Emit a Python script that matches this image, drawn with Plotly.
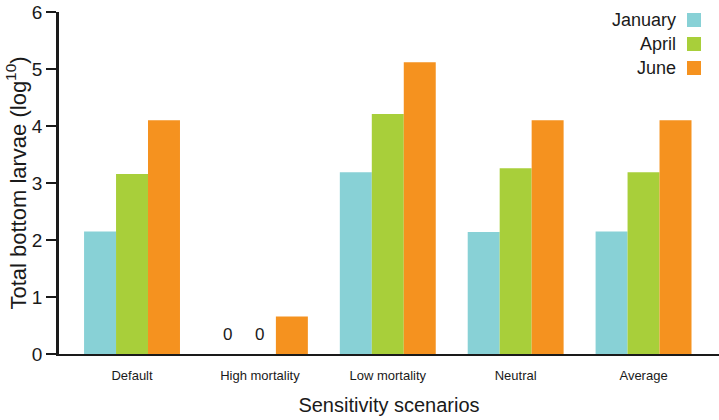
import plotly.graph_objects as go

categories = ["Default", "High mortality", "Low mortality", "Neutral", "Average"]
series_names = ["January", "April", "June"]
january = [2.15, 0, 3.19, 2.14, 2.15]
april = [3.16, 0, 4.21, 3.26, 3.19]
june = [4.1, 0.66, 5.12, 4.1, 4.1]
colors = ["#88D1D6", "#A8CF3A", "#F5921F"]
y_ticks = [0, 1, 2, 3, 4, 5, 6]

values = [january, april, june]
FONT = "Liberation Sans, Arial, sans-serif"
W, H = 719, 420
ML, MR, MT, MB = 59, 0, 12, 66
BARGAP = 0.25

fig = go.Figure()
for name, vals, col in zip(series_names, values, colors):
    fig.add_trace(go.Bar(x=categories, y=vals, name=name, marker=dict(color=col, line=dict(width=0)),
                         showlegend=False))

# zero-value labels placed at the bar positions within each group
n = len(series_names)
bw = (1 - BARGAP) / n
annotations = []
for si, vals in enumerate(values):
    for ci, v in enumerate(vals):
        if v == 0:
            xpos = ci - (1 - BARGAP) / 2 + bw * (si + 0.5)
            annotations.append(dict(x=xpos, y=0, xref="x", yref="y", text="0", showarrow=False,
                                    yanchor="bottom", yshift=8, font=dict(size=17, color="#1a1a1a", family=FONT)))

# custom legend: label on the left, swatch on the right
ph = H - MT - MB
pw = W - ML - MR
shapes = []
leg_centers = [20, 44, 68]
for name, col, yc in zip(series_names, colors, leg_centers):
    yp = (H - MB - yc) / ph
    annotations.append(dict(x=(678 - ML) / pw, y=yp, xref="paper", yref="paper", text=name, showarrow=False,
                            xanchor="right", yanchor="middle", font=dict(size=18, color="#1a1a1a", family=FONT)))
    shapes.append(dict(type="rect", xref="paper", yref="paper",
                       x0=(687 - ML) / pw, x1=(701 - ML) / pw,
                       y0=yp - 7 / ph, y1=yp + 7 / ph,
                       fillcolor=col, line=dict(width=0)))

fig.update_layout(
    width=W, height=H,
    margin=dict(l=ML, r=MR, t=MT, b=MB, autoexpand=False),
    barmode="group", bargap=BARGAP, bargroupgap=0,
    plot_bgcolor="white", paper_bgcolor="white",
    font=dict(family=FONT, color="#1a1a1a"),
    annotations=annotations, shapes=shapes,
    xaxis=dict(
        range=[-0.571, 4.59], showline=True, linecolor="#1a1a1a", linewidth=2,
        ticks="outside", ticklen=8, tickcolor="rgba(0,0,0,0)", tickfont=dict(size=13),
        showgrid=False, zeroline=False,
        title=dict(text="Sensitivity scenarios", font=dict(size=20), standoff=16),
        automargin=False,
    ),
    yaxis=dict(
        range=[0, 6], tickvals=y_ticks, showline=True, linecolor="#1a1a1a", linewidth=2.5,
        ticks="outside", ticklen=10, tickwidth=2, tickcolor="#1a1a1a",
        tickfont=dict(size=19), showgrid=False, zeroline=False,
        title=dict(text="Total bottom larvae (log<sup>10</sup>)", font=dict(size=22), standoff=0),
        automargin=False,
    ),
)

fig.write_html("out.html", config={"displayModeBar": False},
               post_script="document.body.style.margin='0';document.body.style.overflow='hidden';")
